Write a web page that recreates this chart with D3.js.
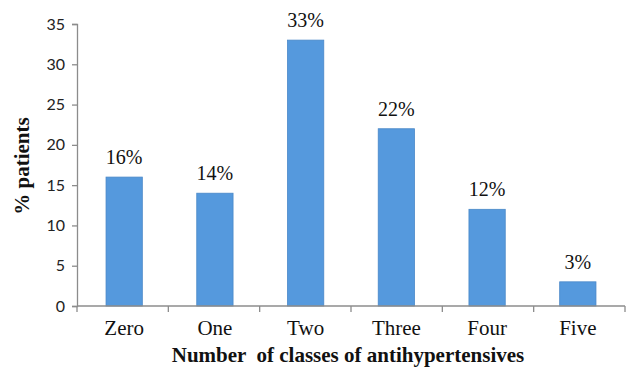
<!DOCTYPE html>
<html>
<head>
<meta charset="utf-8">
<script src="https://cdn.jsdelivr.net/npm/d3@7"></script>
<style>
  html, body { margin: 0; padding: 0; background: #fff; }
  svg { display: block; }
</style>
</head>
<body>
<svg id="chart" width="627" height="369"></svg>
<script>
// Share of patients by number of antihypertensive drug classes
const categories = ["Zero", "One", "Two", "Three", "Four", "Five"];
const values = [16, 14, 33, 22, 12, 3];
const valueLabels = ["16%", "14%", "33%", "22%", "12%", "3%"];
const yTicks = [0, 5, 10, 15, 20, 25, 30, 35];

const svg = d3.select("#chart");
const plotLeft = 77, plotRight = 625, plotTop = 24, plotBottom = 306;

const x = d3.scaleBand().domain(categories).range([plotLeft, plotRight]).paddingInner(0.6).paddingOuter(0.32);
const xTickScale = d3.scaleBand().domain(categories).range([plotLeft, plotRight]);
const y = d3.scaleLinear().domain([0, 35]).range([plotBottom, plotTop]);

const axisColor = "#8c8c8c";
const serif = "'Liberation Serif', 'Times New Roman', serif";

// Y axis
const yAxis = svg.append("g")
  .attr("transform", `translate(${plotLeft},0)`)
  .call(d3.axisLeft(y).tickValues(yTicks).tickSize(5).tickPadding(7).tickFormat(d3.format("d")));
yAxis.select(".domain").attr("stroke", axisColor).attr("stroke-width", 1.3);
yAxis.selectAll(".tick line").attr("stroke", axisColor).attr("stroke-width", 1.3);
yAxis.selectAll(".tick text")
  .attr("fill", "#222")
  .style("font-family", "Lato, 'Open Sans', sans-serif")
  .style("font-size", "16px");

// Bars
svg.append("g").selectAll("rect")
  .data(values)
  .join("rect")
  .attr("x", (d, i) => x(categories[i]))
  .attr("width", x.bandwidth())
  .attr("y", d => y(d))
  .attr("height", d => y(0) - y(d))
  .attr("fill", "#5599dd")
  .attr("stroke", "#4a88c8")
  .attr("stroke-width", 0.8);

// X axis: ticks at band edges
const xAxisG = svg.append("g");
xAxisG.append("line")
  .attr("x1", plotLeft).attr("x2", plotRight)
  .attr("y1", plotBottom).attr("y2", plotBottom)
  .attr("stroke", axisColor).attr("stroke-width", 1.3);
const edges = categories.map(c => xTickScale(c)).concat([plotRight]);
xAxisG.selectAll("line.tk")
  .data(edges)
  .join("line")
  .attr("class", "tk")
  .attr("x1", d => d).attr("x2", d => d)
  .attr("y1", plotBottom).attr("y2", plotBottom + 6)
  .attr("stroke", axisColor).attr("stroke-width", 1.3);

// Category labels
svg.append("g").selectAll("text")
  .data(categories)
  .join("text")
  .attr("x", d => x(d) + x.bandwidth() / 2)
  .attr("y", 335)
  .attr("text-anchor", "middle")
  .style("font-family", serif)
  .style("font-size", "21px")
  .attr("fill", "#111")
  .text(d => d);

// Value labels above bars
svg.append("g").selectAll("text")
  .data(values)
  .join("text")
  .attr("x", (d, i) => x(categories[i]) + x.bandwidth() / 2)
  .attr("y", d => y(d) - 13)
  .attr("text-anchor", "middle")
  .style("font-family", serif)
  .style("font-size", "20px")
  .attr("fill", "#111")
  .text((d, i) => valueLabels[i]);

// Axis titles
svg.append("text")
  .attr("x", 348)
  .attr("y", 362)
  .attr("text-anchor", "middle")
  .style("font-family", serif)
  .style("font-size", "21px")
  .style("font-weight", "bold")
  .style("white-space", "pre")
  .attr("fill", "#111")
  .text("Number  of classes of antihypertensives");

svg.append("text")
  .attr("transform", "translate(29,166) rotate(-90)")
  .attr("text-anchor", "middle")
  .style("font-family", serif)
  .style("font-size", "21px")
  .style("font-weight", "bold")
  .attr("fill", "#111")
  .text("% patients");
</script>
</body>
</html>
